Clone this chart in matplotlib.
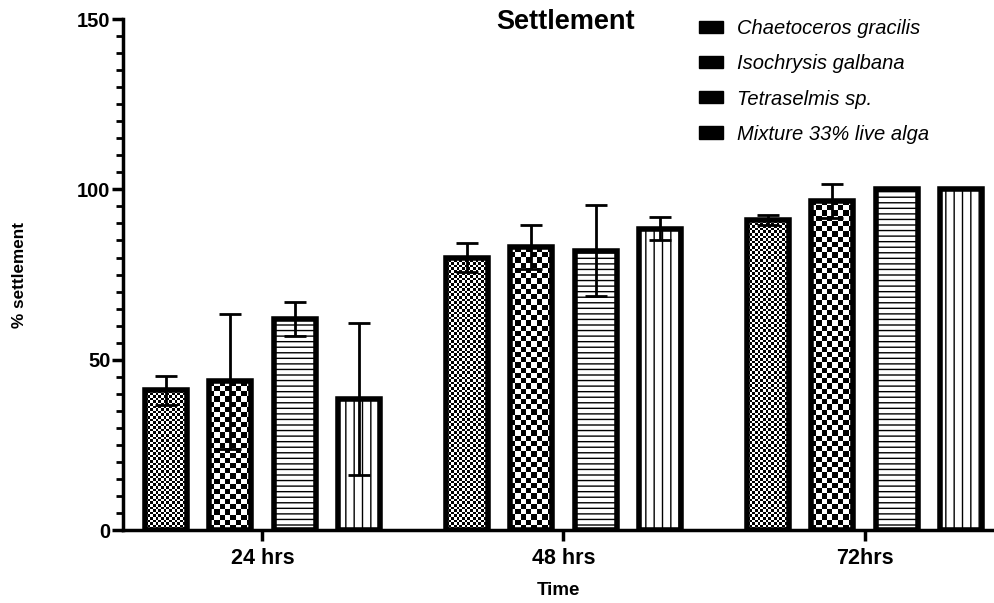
import numpy as np
import matplotlib
matplotlib.use("Agg")
import matplotlib.pyplot as plt
from matplotlib.patches import Patch
from matplotlib.ticker import MultipleLocator

plt.rcParams['font.family'] = ['Liberation Sans', 'DejaVu Sans']

times = ['24 hrs', '48 hrs', '72hrs']
species = ['Chaetoceros gracilis', 'Isochrysis galbana', 'Tetraselmis sp.', 'Mixture 33% live alga']
chaetoceros = [41, 80, 91]
isochrysis = [43.7, 83, 96.7]
tetraselmis = [62, 82, 100]
mixture = [38.4, 88.5, 100]
chaetoceros_sd = [4.3, 4.3, 1.5]
isochrysis_sd = [19.8, 6.5, 5.0]
tetraselmis_sd = [5.0, 13.3, 0]
mixture_sd = [22.3, 3.5, 0]

means = [chaetoceros, isochrysis, tetraselmis, mixture]
sds = [chaetoceros_sd, isochrysis_sd, tetraselmis_sd, mixture_sd]

fig = plt.figure(figsize=(9.94, 6.03), dpi=100)
ax = fig.add_axes([0.1237, 0.121, 0.8763, 0.8474])

x = np.arange(len(times))
width = 0.14
step = 0.2143
offsets = (np.arange(4) - 1.5) * step

# pixel scale used to size the checkerboard cells
px_per_unit_y = 511 / 150
px_per_unit_x = 301

def checker(bar, cell_px):
    x0, y0 = bar.get_x(), bar.get_y()
    w, h = bar.get_width(), bar.get_height()
    nx = max(1, int(round(w * px_per_unit_x / cell_px)))
    ny = max(1, int(round(h * px_per_unit_y / cell_px)))
    img = (np.add.outer(np.arange(ny), np.arange(nx)) % 2).astype(float)
    im = ax.imshow(img, cmap='gray', vmin=0, vmax=1, extent=[x0, x0 + w, y0, y0 + h],
                   origin='lower', aspect='auto', interpolation='nearest', zorder=1)
    im.set_clip_path(bar)

hatches = [None, None, '---', '||']
cells = [2.6, 5.2, None, None]
for i in range(4):
    bars = ax.bar(x + offsets[i], means[i], width, facecolor='white', edgecolor='black',
                  linewidth=4, hatch=hatches[i], zorder=2 if hatches[i] else 3)
    for b in bars:
        if cells[i]:
            b.set_facecolor('none')
            checker(b, cells[i])
    ax.errorbar(x + offsets[i], means[i], yerr=sds[i], fmt='none', ecolor='black',
                elinewidth=2, capsize=8, capthick=2, zorder=4)

ax.set_xlim(-0.463, 2.43)
ax.set_ylim(0, 150)
ax.spines['top'].set_visible(False)
ax.spines['right'].set_visible(False)
ax.spines['left'].set_linewidth(2.5)
ax.spines['bottom'].set_linewidth(2.5)
ax.set_xticks(x)
ax.set_xticklabels(times, fontsize=15.5, fontweight='bold')
ax.set_yticks([0, 50, 100, 150])
ax.set_yticklabels(['0', '50', '100', '150'], fontsize=14.5, fontweight='bold')
ax.yaxis.set_minor_locator(MultipleLocator(5))
ax.tick_params(axis='both', which='major', length=8, width=2.5)
ax.tick_params(axis='x', which='major', pad=5)
ax.tick_params(axis='y', which='major', pad=1)
ax.tick_params(axis='y', which='minor', length=5, width=2)
ax.set_xlabel('Time', fontsize=13.5, fontweight='bold', labelpad=9)
ax.set_ylabel('% settlement', fontsize=12.3, fontweight='bold', labelpad=36)
ax.set_title('Settlement', fontsize=19.5, fontweight='bold', x=0.5086, y=0.965)

handles = [Patch(facecolor='black', edgecolor='black') for _ in species]
leg = ax.legend(handles, species, loc='upper left', bbox_to_anchor=(0.64, 1.035),
                frameon=False, handlelength=1.2, handleheight=0.55, handletextpad=0.7,
                labelspacing=0.8, prop={'style': 'italic', 'size': 14.5})

fig.savefig('out.png', dpi=100)
